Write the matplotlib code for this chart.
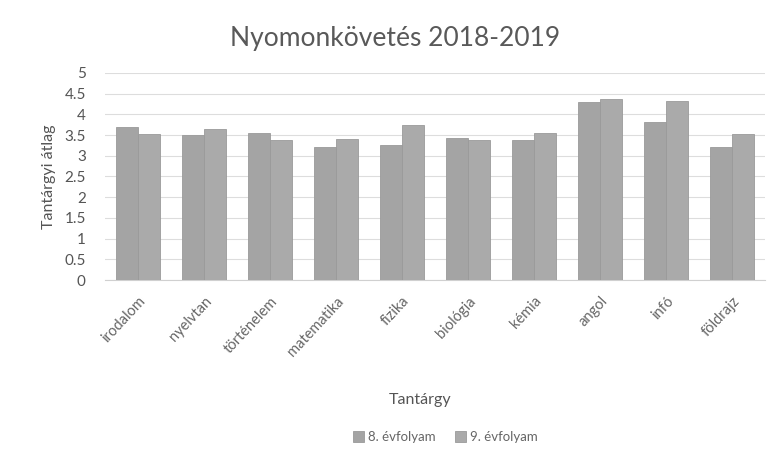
import numpy as np
import matplotlib
matplotlib.use("Agg")
import matplotlib.pyplot as plt

plt.rcParams['font.family'] = ['Lato', 'DejaVu Sans']

# adatok
targyak = ['irodalom', 'nyelvtan', 'történelem', 'matematika', 'fizika',
           'biológia', 'kémia', 'angol', 'infó', 'földrajz']
evf8 = [3.70, 3.50, 3.55, 3.20, 3.26, 3.42, 3.38, 4.30, 3.82, 3.22]
evf9 = [3.52, 3.65, 3.39, 3.41, 3.74, 3.38, 3.54, 4.36, 4.32, 3.52]
yticks = [0, 0.5, 1, 1.5, 2, 2.5, 3, 3.5, 4, 4.5, 5]

fig = plt.figure(figsize=(7.68, 4.70), dpi=100)
ax = fig.add_axes([0.137, 0.404, 0.859, 0.441])

x = np.arange(len(targyak))
w = 0.33
ax.bar(x - w / 2, evf8, w, color='#a4a4a4', edgecolor='#9a9a9a', lw=0.6, label='8. évfolyam', zorder=3)
ax.bar(x + w / 2, evf9, w, color='#aaaaaa', edgecolor='#9a9a9a', lw=0.6, label='9. évfolyam', zorder=3)

ax.set_xlim(-0.5, len(targyak) - 0.5)
ax.set_ylim(0, 5)
ax.set_yticks(yticks)
ax.set_yticklabels([str(t) for t in yticks], fontsize=11, color='#555555')
ax.yaxis.grid(True, color='#dddddd', lw=0.8, zorder=0)
for s in ['top', 'right', 'left']:
    ax.spines[s].set_visible(False)
ax.spines['bottom'].set_color('#d0d0d0')
ax.tick_params(axis='y', length=0, pad=14)
ax.tick_params(axis='x', length=0, pad=10)

ax.set_xticks(x)
ax.set_xticklabels(targyak, rotation=47, ha='right', rotation_mode='anchor',
                   fontsize=10.5, color='#666666')

ax.set_ylabel('Tantárgyi átlag', fontsize=11.5, color='#555555', labelpad=6)
fig.text(0.547, 0.148, 'Tantárgy', ha='center', va='center', fontsize=11.5, color='#555555')
fig.text(0.514, 0.918, 'Nyomonkövetés 2018-2019', ha='center', va='center', fontsize=19, color='#595959')

fig.legend(loc='center', bbox_to_anchor=(0.58, 0.07), ncol=2, frameon=False,
           fontsize=9.5, labelcolor='#666666', handlelength=0.8, handleheight=0.8,
           handletextpad=0.3, columnspacing=1.5)

fig.savefig('out.png', dpi=100, facecolor='white')
